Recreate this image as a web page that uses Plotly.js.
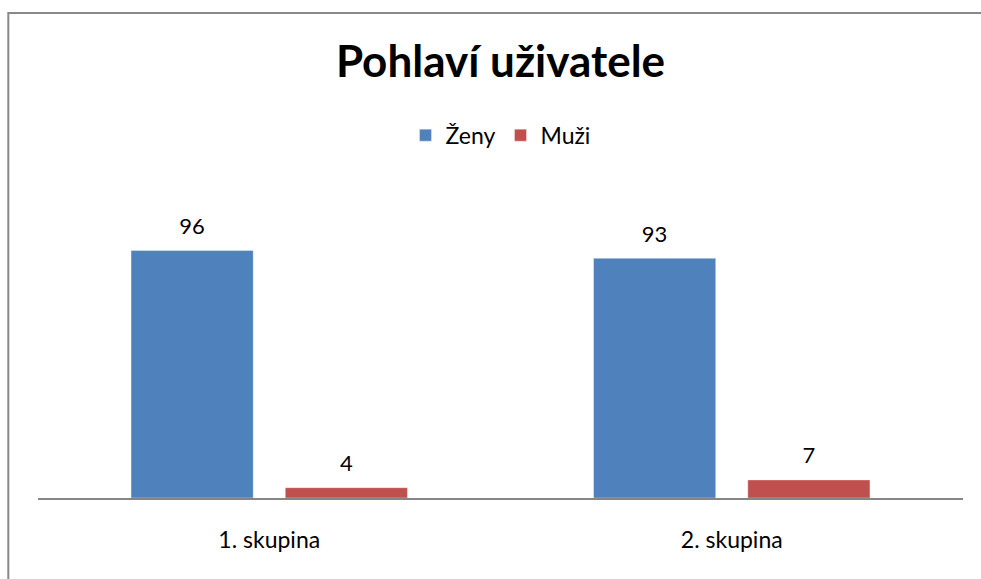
<!DOCTYPE html>
<html>
<head>
<meta charset="utf-8">
<script src="https://cdn.plot.ly/plotly-3.0.1.min.js"></script>
<style>
  html, body { margin: 0; padding: 0; background: #fff; }
  #chart { width: 981px; height: 579px; }
</style>
</head>
<body>
<div id="chart"></div>
<script>
const categories = ["1. skupina", "2. skupina"];
const seriesNames = ["Ženy", "Muži"];
const zenyValues = [96, 93];
const muziValues = [4, 7];
const chartTitle = "Pohlaví uživatele";

const colors = ["#4F81BD", "#C0504D"];
const font = "Lato, 'Open Sans', sans-serif";

const barTrace = (name, vals, color, grp) => ({
  type: "bar",
  name: name,
  x: categories,
  y: vals,
  offsetgroup: grp,
  marker: { color: color, line: { color: "rgba(255,255,255,0.35)", width: 1 } },
  hoverinfo: "x+y+name"
});

const labelTrace = (vals, grp) => ({
  type: "scatter",
  mode: "markers+text",
  x: categories,
  y: vals,
  offsetgroup: grp,
  orientation: "v",
  text: vals.map(String),
  textposition: "top center",
  textfont: { family: font, size: 22, color: "#000" },
  marker: { size: 16, color: "rgba(0,0,0,0)" },
  showlegend: false,
  hoverinfo: "skip",
  cliponaxis: false
});

const data = [
  barTrace(seriesNames[0], zenyValues, colors[0], "a"),
  barTrace(seriesNames[1], muziValues, colors[1], "b"),
  labelTrace(zenyValues, "a"),
  labelTrace(muziValues, "b")
];

const layout = {
  width: 981,
  height: 579,
  margin: { l: 38, r: 18, t: 190, b: 81, pad: 0 },
  paper_bgcolor: "#fff",
  plot_bgcolor: "#fff",
  barmode: "group",
  scattermode: "group",
  bargap: 0.333,
  scattergap: 0.333,
  bargroupgap: 0.208,
  font: { family: font, size: 22, color: "#000" },
  title: {
    text: "<b>" + chartTitle + "</b>",
    font: { family: font, size: 44, color: "#000" },
    x: 0.5, xref: "paper", xanchor: "center",
    y: (579 - 62) / 579, yref: "container", yanchor: "middle"
  },
  showlegend: true,
  legend: {
    orientation: "h",
    x: 0.5, xanchor: "center",
    y: 1.178, yanchor: "middle",
    font: { family: font, size: 23, color: "#000" },
    traceorder: "normal",
    itemwidth: 30
  },
  xaxis: {
    type: "category",
    showgrid: false,
    zeroline: false,
    showline: true,
    linecolor: "#868686",
    linewidth: 1.5,
    ticks: "",
    ticklabelstandoff: 21,
    tickfont: { family: font, size: 23, color: "#000" },
    fixedrange: true
  },
  yaxis: {
    range: [0, 119.5],
    visible: false,
    showgrid: false,
    zeroline: false,
    fixedrange: true
  },
  shapes: [{
    type: "rect",
    xref: "paper", yref: "paper",
    x0: -0.0321, x1: 1.2, y0: -0.35, y1: 1.5747,
    line: { color: "#898989", width: 2 },
    fillcolor: "rgba(0,0,0,0)",
    layer: "above"
  }]
};

Plotly.newPlot("chart", data, layout, { displayModeBar: false, staticPlot: true });
</script>
</body>
</html>
